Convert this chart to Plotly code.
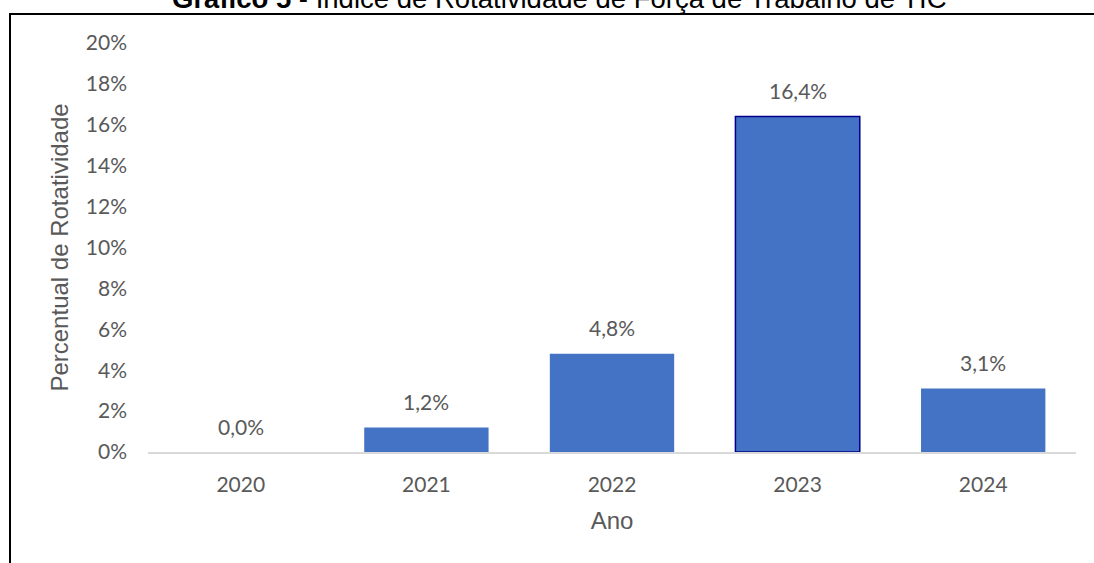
import plotly.graph_objects as go

anos = ["2020", "2021", "2022", "2023", "2024"]
valores = [0.0, 1.2, 4.8, 16.4, 3.1]
rotulos = ["0,0%", "1,2%", "4,8%", "16,4%", "3,1%"]
y_ticks = [0, 2, 4, 6, 8, 10, 12, 14, 16, 18, 20]
y_tick_labels = [f"{v}%" for v in y_ticks]

W, H = 1094, 563
L, R, T, B = 148, 18, 43, 111
pw, ph = W - L - R, H - T - B

def px(x):
    return (x - L) / pw

def py(y):
    return (H - B - y) / ph

line_colors = ["rgba(0,0,0,0)"] * len(anos)
line_widths = [0] * len(anos)
line_colors[3] = "#00008B"
line_widths[3] = 1.5

fig = go.Figure()
fig.add_trace(go.Bar(
    x=anos, y=valores,
    marker=dict(color="#4472C4", line=dict(color=line_colors, width=line_widths)),
    width=0.67,
    hoverinfo="skip",
))

for i, (v, t) in enumerate(zip(valores, rotulos)):
    fig.add_annotation(x=i, y=v, text=t, showarrow=False, yanchor="middle", yshift=26,
                       font=dict(family="Lato", size=21, color="#595959"))

fig.add_annotation(xref="paper", yref="paper", x=px(559), y=py(-1.5), xanchor="center", yanchor="middle",
                   text="<b>Gráfico 5</b> - Índice de Rotatividade de Força de Trabalho de TIC",
                   showarrow=False, font=dict(family="Liberation Sans Narrow, Liberation Sans", size=27.5, color="#000000"))

# outer frame
fig.add_shape(type="rect", xref="paper", yref="paper",
              x0=px(10), x1=px(1110), y0=py(580), y1=py(14),
              line=dict(color="#000000", width=2), fillcolor="rgba(0,0,0,0)", layer="above")

fig.update_layout(
    width=W, height=H,
    margin=dict(l=L, r=R, t=T, b=B, autoexpand=False),
    paper_bgcolor="white", plot_bgcolor="white",
    showlegend=False,
    font=dict(family="Lato", color="#595959"),
    xaxis=dict(
        type="category", range=[-0.5, len(anos) - 0.5], showgrid=False, showline=True,
        linecolor="#D9D9D9", linewidth=2,
        ticks="", tickfont=dict(family="Lato", size=21, color="#595959"),
        ticklabelstandoff=13,
        title=dict(text="Ano", font=dict(family="Liberation Sans", size=24, color="#595959"), standoff=17),
    ),
    yaxis=dict(
        range=[0, 20], tickvals=y_ticks, ticktext=y_tick_labels,
        showgrid=False, zeroline=False, showline=False, ticks="",
        tickfont=dict(family="Lato", size=21, color="#595959"),
        ticklabelstandoff=20,
        title=dict(text="Percentual de Rotatividade", font=dict(family="Liberation Sans", size=24, color="#595959"), standoff=10),
    ),
)

fig.write_html("out.html")
